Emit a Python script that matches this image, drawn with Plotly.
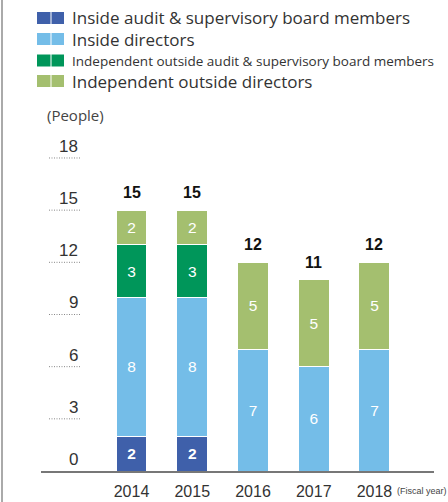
"""Board composition by fiscal year, stacked bars."""
import plotly.graph_objects as go

YEARS = ['2014', '2015', '2016', '2017', '2018']
INSIDE_AUDIT = [2, 2, 0, 0, 0]
INSIDE_DIRECTORS = [8, 8, 7, 6, 7]
INDEP_AUDIT = [3, 3, 0, 0, 0]
INDEP_DIRECTORS = [2, 2, 5, 5, 5]
SERIES_NAMES = [
    'Inside audit & supervisory board members',
    'Inside directors',
    'Independent outside audit & supervisory board members',
    'Independent outside directors',
]
COLORS = ['#3f60aa', '#74bde8', '#00965a', '#a4bf6f']
Y_TICKS = [3, 6, 9, 12, 15, 18]

W, H = 448, 502
L, R, T, B = 41, 14, 140, 31
PW, PH = W - L - R, H - T - B
NUM_FONT = 'Liberation Sans, Arial, sans-serif'
TXT_FONT = 'Open Sans, Noto Sans, sans-serif'


def px(x, y):
    """Pixel position -> paper coords."""
    return (x - L) / PW, (H - B - y) / PH


def main():
    fig = go.Figure()
    series = [INSIDE_AUDIT, INSIDE_DIRECTORS, INDEP_AUDIT, INDEP_DIRECTORS]
    for i, (name, vals) in enumerate(zip(SERIES_NAMES, series)):
        fig.add_bar(
            x=YEARS, y=vals, name=name,
            marker=dict(color=COLORS[i], line=dict(color='white', width=1)),
            text=[str(v) if v else '' for v in vals],
            textposition='inside', insidetextanchor='middle',
            textfont=dict(family=NUM_FONT, size=15.5, color='white',
                          weight='bold' if i == 0 else 'normal'),
            width=0.51, showlegend=False)

    totals = [sum(v) for v in zip(*series)]
    for i, tot in enumerate(totals):
        fig.add_annotation(xref='x', yref='y', x=i, y=tot, text=f'<b>{tot}</b>', showarrow=False,
                           yanchor='bottom', yshift=7,
                           font=dict(family=NUM_FONT, size=16, color='#111'))

    # y ticks: label over a short dotted line
    for v in Y_TICKS:
        x0, _ = px(49, 0)
        x1, _ = px(80, 0)
        fig.add_shape(type='line', xref='paper', yref='y', x0=x0, x1=x1, y0=v, y1=v,
                      line=dict(color='#888', width=1, dash='1px,1.5px'))
    for v in [0] + Y_TICKS:
        xa, _ = px(80, 0)
        fig.add_annotation(xref='paper', yref='y', x=xa, y=v, text=str(v), showarrow=False,
                           xanchor='right', yanchor='bottom', yshift=0,
                           font=dict(family=NUM_FONT, size=17, color='#333'))

    ax, ay = px(45, 115)
    fig.add_annotation(xref='paper', yref='paper', x=ax, y=ay, text='(People)', showarrow=False,
                       xanchor='left', yanchor='middle', font=dict(family=TXT_FONT, size=15, color='#444'))
    fx, fy = px(395, 491)
    fig.add_annotation(xref='paper', yref='paper', x=fx, y=fy, text='(Fiscal year)', showarrow=False,
                       xanchor='left', yanchor='middle', font=dict(family=NUM_FONT, size=9, color='#444'))

    # legend
    rows = [18, 39, 60.5, 81]
    sizes = [17, 17, 13.5, 17]
    for name, col, yc, fs in zip(SERIES_NAMES, COLORS, rows, sizes):
        for sx0, sx1 in [(37, 50.5), (51.5, 64)]:
            a0, b0 = px(sx0, yc - 6)
            a1, b1 = px(sx1, yc + 6)
            fig.add_shape(type='rect', xref='paper', yref='paper', x0=a0, x1=a1, y0=b1, y1=b0,
                          fillcolor=col, line=dict(width=0))
        tx, ty = px(70, yc)
        fig.add_annotation(xref='paper', yref='paper', x=tx, y=ty, text=name, showarrow=False,
                           xanchor='left', yanchor='middle', font=dict(family=TXT_FONT, size=fs, color='#333'))

    # left frame line
    vx, vy0 = px(2, H)
    _, vy1 = px(2, 0)
    fig.add_shape(type='line', xref='paper', yref='paper', x0=vx, x1=vx, y0=vy0, y1=vy1,
                  line=dict(color='#aaa', width=2))

    fig.update_layout(
        width=W, height=H, margin=dict(l=L, r=R, t=T, b=B, autoexpand=False),
        barmode='stack', plot_bgcolor='white', paper_bgcolor='white',
        xaxis=dict(type='category', range=[-1.49, 4.98], showline=True, linecolor='#777', linewidth=2,
                   ticks='', showgrid=False, ticklabelstandoff=5, automargin=False,
                   tickfont=dict(family=NUM_FONT, size=16, color='#333')),
        yaxis=dict(range=[0, PH / 17.39], visible=False, automargin=False),
    )
    fig.write_html('out.html', config={'displayModeBar': False},
                   post_script="document.body.style.margin='0';")


if __name__ == '__main__':
    main()
